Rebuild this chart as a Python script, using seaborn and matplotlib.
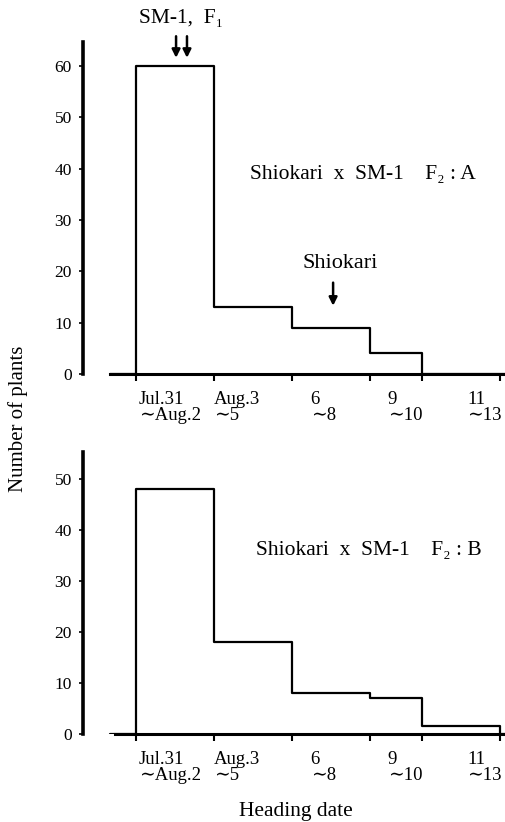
import numpy as np
import matplotlib
matplotlib.use('Agg')
import matplotlib.pyplot as plt
import seaborn as sns

# days counted from Jul.31; the 9~10 class only covers two days
bin_edges = [0, 3, 6, 9, 11, 14]
class_labels = ['Jul.31\n∼Aug.2', 'Aug.3\n∼5', '6\n∼8', '9\n∼10', '11\n∼13']
label_pos = [1.3, 3.9, 7.2, 10.35, 13.4]

counts_a = [60, 13, 9, 4, 0]
counts_b = [48, 18, 8, 7, 1.6]

title_a = 'Shiokari  x  SM-1    F₂ : A'
title_b = 'Shiokari  x  SM-1    F₂ : B'

sns.set_style('ticks', {'axes.edgecolor': 'black', 'xtick.color': 'black',
                        'ytick.color': 'black', 'text.color': 'black',
                        'axes.labelcolor': 'black'})
plt.rcParams['font.family'] = ['Liberation Serif', 'DejaVu Serif']
plt.rcParams['axes.unicode_minus'] = False

fig = plt.figure(figsize=(5.06, 8.22), dpi=100)
ax1 = fig.add_axes([0.164, 0.545, 0.836, 0.404])
ax2 = fig.add_axes([0.164, 0.107, 0.836, 0.343])


def draw_panel(ax, counts, ymax, yticks, xstart):
    # empty classes on both sides so the step outline closes down to zero
    edges = [bin_edges[0] - 1] + bin_edges + [bin_edges[-1] + 0.2]
    weights = [0] + list(counts) + [0]
    sns.histplot(x=edges[:-1], weights=weights, bins=edges,
                 element='step', fill=False, color='black',
                 linewidth=1.6, ax=ax)
    ax.set_xlim(-2.04, 14.23)
    ax.set_ylim(0, ymax)
    ax.set_xlabel('')
    ax.set_ylabel('')
    for s in ['top', 'right']:
        ax.spines[s].set_visible(False)
    ax.spines['left'].set_linewidth(2.6)
    ax.spines['bottom'].set_linewidth(2.2)
    ax.spines['bottom'].set_bounds(xstart, 14.23)
    ax.spines['bottom'].set_zorder(3)
    ax.set_yticks(yticks)
    ax.tick_params(axis='y', labelsize=12.5, length=3, width=1.2, pad=5)
    ax.set_xticks(label_pos)
    ax.set_xticklabels(class_labels, fontsize=13.5, linespacing=0.95)
    for t in ax.get_xticklabels():
        t.set_multialignment('left')
    ax.tick_params(axis='x', which='major', length=0, pad=12)
    ax.set_xticks(bin_edges, minor=True)
    ax.tick_params(axis='x', which='minor', length=5, width=1.5)
    ax.patch.set_visible(False)


draw_panel(ax1, counts_a, 64.7, range(0, 61, 10), -1.0)
draw_panel(ax2, counts_b, 55.2, range(0, 51, 10), -0.8)

arrow_kw = dict(arrowstyle='-|>', color='black', lw=1.8, mutation_scale=12,
                shrinkA=0, shrinkB=0)

# annotations, top panel
ax1.text(4.38, 38.8, title_a, fontsize=15.5, va='center', ha='left')
ax1.text(7.85, 21.6, 'Shiokari', fontsize=16, va='center', ha='center')
ax1.annotate('', xy=(7.58, 13.3), xytext=(7.58, 17.8), arrowprops=arrow_kw)
ax1.text(1.73, 69.2, 'SM-1,  F₁', fontsize=15.5, va='center', ha='center',
         clip_on=False)
for xa in [1.54, 1.96]:
    ax1.annotate('', xy=(xa, 61.6), xytext=(xa, 65.8), arrowprops=arrow_kw,
                 annotation_clip=False)

# bottom panel
ax2.text(4.6, 36.0, title_b, fontsize=15.5, va='center', ha='left')

fig.text(0.036, 0.49, 'Number of plants', rotation=90, fontsize=15,
         va='center', ha='center')
fig.text(0.585, 0.013, 'Heading date', fontsize=15.5, va='center',
         ha='center')

fig.savefig('out.png', dpi=100)
